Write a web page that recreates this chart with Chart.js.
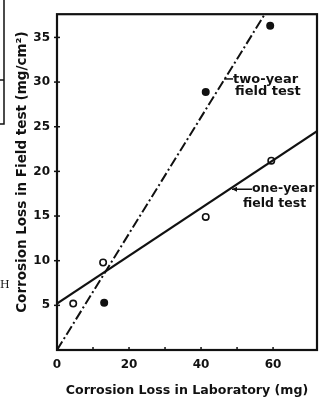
<!DOCTYPE html>
<html>
<head>
<title>Corrosion Loss: Field test vs Laboratory</title>
<script src="https://cdn.jsdelivr.net/npm/chart.js"></script>
<style>
  html, body { margin: 0; padding: 0; background: #fff; }
  #chart { display: block; }
</style>
</head>
<body>
<canvas id="chart" width="331" height="399"></canvas>
<script>
// data
const oneYearLab = [4.5, 12.8, 41.3, 59.5];
const oneYearField = [5.2, 9.8, 14.9, 21.2];
const twoYearLab = [13.1, 41.3, 59.2];
const twoYearField = [5.3, 28.9, 36.3];

// fitted lines (end points)
const oneYearFitX = [0, 72.2];
const oneYearFitY = [5.2, 24.5];
const twoYearFitX = [0, 57.7];
const twoYearFitY = [0, 37.6];

const xLabelled = [0, 20, 40, 60];
const yTitle = 'Corrosion Loss in Field test (mg/cm\u00b2)';
const xTitle = 'Corrosion Loss in Laboratory (mg)';

function pts(xs, ys) {
  return xs.map((x, i) => ({ x: x, y: ys[i] }));
}

const INK = '#111';
const FONT = 'DejaVu Sans';

// frame, inward ticks, y title, curve labels and the bits of the neighbouring figure
const decor = {
  id: 'decor',
  afterDatasetsDraw(chart) {
    const ctx = chart.ctx;
    const a = chart.chartArea;
    const xs = chart.scales.x, ys = chart.scales.y;
    ctx.save();
    ctx.strokeStyle = INK;
    ctx.fillStyle = INK;

    ctx.lineWidth = 2.2;
    ctx.strokeRect(a.left, a.top, a.right - a.left, a.bottom - a.top);

    ctx.lineWidth = 1.5;
    xs.ticks.forEach(t => {
      if (t.value === 0 || t.value % 10 !== 0) return;
      const px = xs.getPixelForValue(t.value);
      ctx.beginPath(); ctx.moveTo(px, a.bottom); ctx.lineTo(px, a.bottom - 3); ctx.stroke();
    });
    ys.ticks.forEach(t => {
      if (t.value === 0 || t.value % 5 !== 0) return;
      const py = ys.getPixelForValue(t.value);
      ctx.beginPath(); ctx.moveTo(a.left - 3, py); ctx.lineTo(a.left + 3, py); ctx.stroke();
    });

    // y axis title, sits a little above the middle in the original
    ctx.save();
    ctx.translate(22, (a.top + a.bottom) / 2 - 10);
    ctx.rotate(-Math.PI / 2);
    ctx.font = 'bold 13.5px ' + FONT;
    ctx.textAlign = 'center';
    ctx.textBaseline = 'middle';
    ctx.fillText(yTitle, 0, 0);
    ctx.restore();

    // curve labels
    ctx.textBaseline = 'middle';
    ctx.textAlign = 'left';
    ctx.lineWidth = 1.5;

    ctx.font = 'bold 13px ' + FONT;
    let lx = xs.getPixelForValue(46.4), ly = ys.getPixelForValue(30.35);
    ctx.beginPath(); ctx.moveTo(lx, ly); ctx.lineTo(lx + 9, ly); ctx.stroke();
    ctx.fillText('two-year', lx + 9, ly + 1);
    ctx.fillText('field test', lx + 11, ly + 13);

    ctx.font = 'bold 12.5px ' + FONT;
    lx = xs.getPixelForValue(48.6); ly = ys.getPixelForValue(18.0);
    ctx.beginPath(); ctx.moveTo(lx, ly); ctx.lineTo(lx + 20, ly); ctx.stroke();
    ctx.beginPath(); ctx.moveTo(lx, ly); ctx.lineTo(lx + 5, ly - 2.5); ctx.lineTo(lx + 5, ly + 2.5); ctx.closePath(); ctx.fill();
    ctx.fillText('one-year', lx + 20, ly);
    ctx.fillText('field test', lx + 11, ly + 15);

    // edge of the neighbouring figure
    ctx.lineWidth = 1.5;
    ctx.beginPath(); ctx.moveTo(4, 0); ctx.lineTo(4, 124); ctx.lineTo(0, 124); ctx.stroke();
    ctx.beginPath(); ctx.moveTo(0, 80); ctx.lineTo(4, 80); ctx.stroke();
    ctx.font = '11px "DejaVu Serif"';
    ctx.fillText('H', 0, 285);
    ctx.restore();
  }
};

new Chart(document.getElementById('chart'), {
  type: 'scatter',
  data: {
    datasets: [
      {
        label: 'one-year fit',
        data: pts(oneYearFitX, oneYearFitY),
        showLine: true,
        borderColor: INK,
        borderWidth: 2,
        pointRadius: 0
      },
      {
        label: 'two-year fit',
        data: pts(twoYearFitX, twoYearFitY),
        showLine: true,
        borderColor: INK,
        borderWidth: 2,
        borderDash: [10, 3, 2, 3],
        pointRadius: 0
      },
      {
        label: 'one-year field test',
        data: pts(oneYearLab, oneYearField),
        pointStyle: 'circle',
        pointRadius: 3.2,
        pointBorderWidth: 1.6,
        pointBorderColor: INK,
        pointBackgroundColor: '#fff'
      },
      {
        label: 'two-year field test',
        data: pts(twoYearLab, twoYearField),
        pointStyle: 'circle',
        pointRadius: 4,
        pointBorderWidth: 0,
        pointBackgroundColor: INK
      }
    ]
  },
  options: {
    responsive: false,
    animation: false,
    clip: 0,
    layout: { padding: { left: 0, top: 9, right: 14, bottom: 0 } },
    plugins: { legend: { display: false }, tooltip: { enabled: false } },
    scales: {
      x: {
        type: 'linear',
        min: 0,
        max: 72.2,
        afterFit(s) { s.height = 49; },
        grid: { display: false, drawTicks: false },
        border: { display: false },
        ticks: {
          stepSize: 10,
          padding: 8,
          color: INK,
          font: { family: FONT, size: 12, weight: 'bold' },
          callback: v => xLabelled.includes(v) ? String(v) : ''
        },
        title: {
          display: true,
          text: xTitle,
          color: INK,
          font: { family: FONT, size: 12.6, weight: 'bold' },
          padding: { top: 0, bottom: 1 }
        }
      },
      y: {
        type: 'linear',
        min: 0,
        max: 37.6,
        afterFit(s) { s.width = 57; },
        grid: { display: false, drawTicks: false },
        border: { display: false },
        ticks: {
          stepSize: 5,
          padding: 7,
          color: INK,
          font: { family: FONT, size: 12, weight: 'bold' },
          callback: v => (v === 0 || v % 5 !== 0) ? '' : String(v)
        }
      }
    }
  },
  plugins: [decor]
});
</script>
</body>
</html>
